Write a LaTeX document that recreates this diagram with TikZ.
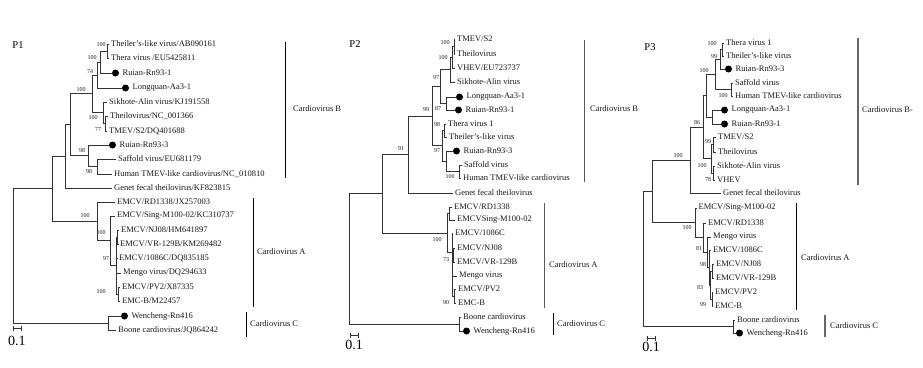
\documentclass[tikz,border=0pt]{standalone}
\usepackage{fontspec}
\setmainfont{Liberation Serif}
\newcommand\myleaf[4]{\coordinate (#1) at (#2,#3); \node[leaflab] (#1t) at (#2+2,#3) {#4};}
\newcommand\mydotleaf[4]{\coordinate (#1) at (#2,#3); \node[blackdot] (#1d) at (#2+3.5,#3) {}; \node[leaflab] (#1t) at (#2+10.5,#3) {#4};}
\newcommand\myboot[4]{\node[boot] (#1) at (#2,#3) {#4};}
\begin{document}
\begin{tikzpicture}[x=1pt,y=-1pt,
  treeline/.style={draw=black!80, line width=0.9pt},
  leaflab/.style={anchor=west, inner sep=0pt, text=black!90, font=\fontsize{8.5}{10}\selectfont},
  boot/.style={inner sep=0pt, text=black!90, font=\fontsize{6}{7}\selectfont},
  blackdot/.style={circle, fill=black, inner sep=0pt, minimum size=7pt},
  panel/.style={inner sep=0pt, font=\fontsize{10.5}{12}\selectfont},
  cladebar/.style={draw=black, line width=0.9pt},
  graybar/.style={draw=black!60, line width=1.5pt},
  cladelab/.style={anchor=west, inner sep=0pt, text=black!90, font=\fontsize{8.5}{10}\selectfont},
  scalebar/.style={draw=black!80, line width=0.8pt},
  scalelab/.style={inner sep=0pt, font=\fontsize{14}{16}\selectfont}]
\useasboundingbox (0,0) rectangle (923,367);
\fill[white] (0,0) rectangle (923,367);

% ================= P1 =================
\node[panel] (P1) at (18,45) {P1};
\myleaf{p1l1}{109}{44}{Theiler's-like virus/AB090161}
\myleaf{p1l2}{109}{58}{Thera virus /EU5425811}
\mydotleaf{p1l3}{112}{73}{Ruian-Rn93-1}
\mydotleaf{p1l4}{122}{88}{Longquan-Aa3-1}
\myleaf{p1l5}{107}{102}{Sikhote-Alin virus/KJ191558}
\myleaf{p1l6}{108}{116}{Theilovirus/NC\_001366}
\myleaf{p1l7}{107}{131}{TMEV/S2/DQ401688}
\mydotleaf{p1l8}{109}{145}{Ruian-Rn93-3}
\myleaf{p1l9}{116}{159}{Saffold virus/EU681179}
\myleaf{p1l10}{112}{174}{Human TMEV-like cardiovirus/NC\_010810}
\myleaf{p1l11}{112}{188}{Genet fecal theilovirus/KF823815}
\myleaf{p1l12}{115}{202}{EMCV/RD1338/JX257003}
\myleaf{p1l13}{115}{216}{EMCV/Sing-M100-02/KC310737}
\myleaf{p1l14}{119}{230}{EMCV/NJ08/HM641897}
\myleaf{p1l15}{118}{244}{EMCV/VR-129B/KM269482}
\myleaf{p1l16}{117}{258}{EMCV/1086C/DQ835185}
\myleaf{p1l17}{121}{273}{Mengo virus/DQ294633}
\myleaf{p1l18}{120}{287}{EMCV/PV2/X87335}
\myleaf{p1l19}{120}{301}{EMC-B/M22457}
\mydotleaf{p1l20}{121}{316}{Wencheng-Rn416}
\myleaf{p1l21}{116}{330}{Boone cardiovirus/JQ864242}

\coordinate (p1a) at (107,51);
\coordinate (p1b) at (100,62);
\coordinate (p1c) at (97,75);
\coordinate (p1d) at (105,123.5);
\coordinate (p1e) at (103,112.75);
\coordinate (p1f) at (92,93.9);
\coordinate (p1g) at (97,166.5);
\coordinate (p1h) at (88,155.75);
\coordinate (p1i) at (70,124.8);
\coordinate (p1j) at (65,156.4);
\coordinate (p1nv) at (117.5,237);
\coordinate (p1pe) at (118,294);
\coordinate (p1m) at (116.5,265.5);
\coordinate (p1n) at (110,240.75);
\coordinate (p1o) at (97,221.4);
\coordinate (p1p) at (52,188.9);
\coordinate (p1q) at (108,323);
\coordinate (p1r) at (13,256);

\draw[treeline]
 (p1a) |- (p1l1) (p1a) |- (p1l2)
 (p1b) |- (p1a) (p1b) |- (p1l3)
 (p1c) |- (p1b) (p1c) |- (p1l4)
 (p1d) |- (p1l6) (p1d) |- (p1l7)
 (p1e) |- (p1l5) (p1e) |- (p1d)
 (p1f) |- (p1c) (p1f) |- (p1e)
 (p1g) |- (p1l9) (p1g) |- (p1l10)
 (p1h) |- (p1l8) (p1h) |- (p1g)
 (p1i) |- (p1f) (p1i) |- (p1h)
 (p1j) |- (p1i) (p1j) |- (p1l11)
 (p1nv) |- (p1l14) (p1nv) |- (p1l15)
 (p1pe) |- (p1l18) (p1pe) |- (p1l19)
 (p1m) |- (p1nv) (p1m) |- (p1l16) (p1m) |- (p1l17) (p1m) |- (p1pe)
 (p1n) |- (p1l13) (p1n) |- (p1m)
 (p1o) |- (p1l12) (p1o) |- (p1n)
 (p1p) |- (p1j) (p1p) |- (p1o)
 (p1q) |- (p1l20) (p1q) |- (p1l21)
 (p1r) |- (p1p) (p1r) |- (p1q);

\myboot{p1ba}{101}{45}{100}
\myboot{p1bb}{92}{58}{100}
\myboot{p1bc}{90}{72}{74}
\myboot{p1bd}{98}{130}{77}
\myboot{p1be}{93}{118}{100}
\myboot{p1bf}{81}{89.5}{100}
\myboot{p1bg}{89}{172}{98}
\myboot{p1bh}{82}{151}{98}
\myboot{p1bpe}{101}{292}{100}
\myboot{p1bm}{106}{259}{97}
\myboot{p1bn}{101}{233}{100}
\myboot{p1bo}{85}{215.5}{100}

\coordinate (s1a) at (13,328); \coordinate (s1b) at (21,328);
\draw[scalebar] (s1a) -- (s1b) (s1a) ++(0,-2.5) -- ++(0,5) (s1b) ++(0,-2.5) -- ++(0,5);
\node[scalelab] (s1t) at (17,341) {0.1};

\coordinate (c1bt) at (285,42); \coordinate (c1bb) at (285,178);
\draw[cladebar] (c1bt) -- (c1bb);
\node[cladelab] (c1bl) at (293,109) {Cardiovirus B};
\coordinate (c1at) at (253,198); \coordinate (c1ab) at (253,307);
\draw[cladebar] (c1at) -- (c1ab);
\node[cladelab] (c1al) at (257,252) {Cardiovirus A};
\coordinate (c1ct) at (246,312); \coordinate (c1cb) at (246,337);
\draw[cladebar] (c1ct) -- (c1cb);
\node[cladelab] (c1cl) at (250,324) {Cardiovirus C};

% ================= P2 =================
\node[panel] (P2) at (355,44) {P2};
\myleaf{p2l1}{455}{39}{TMEV/S2}
\myleaf{p2l2}{455}{54}{Theilovirus}
\myleaf{p2l3}{455}{68}{VHEV/EU723737}
\myleaf{p2l4}{455}{82}{Sikhote-Alin virus}
\mydotleaf{p2l5}{456}{97}{Longquan-Aa3-1}
\mydotleaf{p2l6}{455}{110}{Ruian-Rn93-1}
\myleaf{p2l7}{446}{124}{Thera virus 1}
\myleaf{p2l8}{447}{137}{Theiler's-like virus}
\mydotleaf{p2l9}{453}{151}{Ruian-Rn93-3}
\myleaf{p2l10}{462}{165}{Saffold virus}
\myleaf{p2l11}{461}{178}{Human TMEV-like cardiovirus}
\myleaf{p2l12}{453}{193}{Genet fecal theilovirus}
\myleaf{p2l13}{452}{207}{EMCV/RD1338}
\myleaf{p2l14}{455}{220}{EMCVSing-M100-02}
\myleaf{p2l15}{453}{233}{EMCV/1086C}
\myleaf{p2l16}{455}{248}{EMCV/NJ08}
\myleaf{p2l17}{455}{262}{EMCV/VR-129B}
\myleaf{p2l18}{457}{276}{Mengo virus}
\myleaf{p2l19}{456}{289}{EMCV/PV2}
\myleaf{p2l20}{456}{303}{EMC-B}
\myleaf{p2l21}{461}{317}{Boone cardiovirus}
\mydotleaf{p2l22}{463}{331}{Wencheng-Rn416}

\coordinate (p2a) at (454,46.5);
\coordinate (p2b) at (452,57.25);
\coordinate (p2c) at (450,69.6);
\coordinate (p2d) at (446,103.5);
\coordinate (p2e) at (440,86.6);
\coordinate (p2f) at (444,130.5);
\coordinate (p2g) at (459,171.5);
\coordinate (p2h) at (446,161.25);
\coordinate (p2i) at (442,145.9);
\coordinate (p2j) at (432,116.25);
\coordinate (p2k) at (408,154.6);
\coordinate (p2rs) at (449,213.5);
\coordinate (p2nv) at (453,255);
\coordinate (p2pe) at (454,296);
\coordinate (p2m) at (452,252.5);
\coordinate (p2n) at (447,233);
\coordinate (p2o) at (382,193.8);
\coordinate (p2q) at (459,324);
\coordinate (p2r) at (349,259);

\draw[treeline]
 (p2a) |- (p2l1) (p2a) |- (p2l2)
 (p2b) |- (p2a) (p2b) |- (p2l3)
 (p2c) |- (p2b) (p2c) |- (p2l4)
 (p2d) |- (p2l5) (p2d) |- (p2l6)
 (p2e) |- (p2c) (p2e) |- (p2d)
 (p2f) |- (p2l7) (p2f) |- (p2l8)
 (p2g) |- (p2l10) (p2g) |- (p2l11)
 (p2h) |- (p2l9) (p2h) |- (p2g)
 (p2i) |- (p2f) (p2i) |- (p2h)
 (p2j) |- (p2e) (p2j) |- (p2i)
 (p2k) |- (p2j) (p2k) |- (p2l12)
 (p2rs) |- (p2l13) (p2rs) |- (p2l14)
 (p2nv) |- (p2l16) (p2nv) |- (p2l17)
 (p2pe) |- (p2l19) (p2pe) |- (p2l20)
 (p2m) |- (p2l15) (p2m) |- (p2nv) (p2m) |- (p2l18) (p2m) |- (p2pe)
 (p2n) |- (p2rs) (p2n) |- (p2m)
 (p2o) |- (p2k) (p2o) |- (p2n)
 (p2q) |- (p2l21) (p2q) |- (p2l22)
 (p2r) |- (p2o) (p2r) |- (p2q);

\myboot{p2ba}{445}{43}{100}
\myboot{p2bb}{443}{58}{100}
\myboot{p2be}{436}{78}{97}
\myboot{p2bd}{438}{109}{87}
\myboot{p2bf}{437}{125}{98}
\myboot{p2bg}{450}{177}{100}
\myboot{p2bh}{437}{151}{97}
\myboot{p2bj}{426}{110}{99}
\myboot{p2bk}{401}{149}{91}
\myboot{p2bnv}{446}{260}{73}
\myboot{p2bpe}{446}{303}{90}
\myboot{p2bn}{437}{240}{100}

\coordinate (s2a) at (350,335); \coordinate (s2b) at (358,335);
\draw[scalebar] (s2a) -- (s2b) (s2a) ++(0,-2.5) -- ++(0,5) (s2b) ++(0,-2.5) -- ++(0,5);
\node[scalelab] (s2t) at (354,344.5) {0.1};

\coordinate (c2bt) at (584,40); \coordinate (c2bb) at (584,182);
\draw[cladebar, draw=black!65] (c2bt) -- (c2bb);
\node[cladelab] (c2bl) at (590,109) {Cardiovirus B};
\coordinate (c2at) at (544,203); \coordinate (c2ab) at (544,308);
\draw[cladebar, draw=black!65] (c2at) -- (c2ab);
\node[cladelab] (c2al) at (549,265) {Cardiovirus A};
\coordinate (c2ct) at (553,313); \coordinate (c2cb) at (553,335);
\draw[cladebar] (c2ct) -- (c2cb);
\node[cladelab] (c2cl) at (557,324) {Cardiovirus C};

% ================= P3 =================
\node[panel] (P3) at (650,47) {P3};
\myleaf{p3l1}{724}{43}{Thera virus 1}
\myleaf{p3l2}{724}{56}{Theiler's-like virus}
\mydotleaf{p3l3}{725}{69}{Ruian-Rn93-3}
\myleaf{p3l4}{733}{83}{Saffold virus}
\myleaf{p3l5}{733}{96}{Human TMEV-like cardiovirus}
\mydotleaf{p3l6}{721}{110}{Longquan-Aa3-1}
\mydotleaf{p3l7}{721}{124}{Ruian-Rn93-1}
\myleaf{p3l8}{716}{137}{TMEV/S2}
\myleaf{p3l9}{716}{152}{Theilovirus}
\myleaf{p3l10}{715}{166}{Sikhote-Alin virus}
\myleaf{p3l11}{715}{180}{VHEV}
\myleaf{p3l12}{721}{193}{Genet fecal theilovirus}
\myleaf{p3l13}{696.5}{208}{EMCV/Sing-M100-02}
\myleaf{p3l14}{706}{223}{EMCV/RD1338}
\myleaf{p3l15}{711}{237}{Mengo virus}
\myleaf{p3l16}{711}{250}{EMCV/1086C}
\myleaf{p3l17}{714}{264}{EMCV/NJ08}
\myleaf{p3l18}{714}{278}{EMCV/VR-129B}
\myleaf{p3l19}{713}{292}{EMCV/PV2}
\myleaf{p3l20}{713}{306}{EMC-B}
\myleaf{p3l21}{735}{320}{Boone cardiovirus}
\mydotleaf{p3l22}{736}{333}{Wencheng-Rn416}

\coordinate (p3a) at (722,49.5);
\coordinate (p3b) at (720,59.25);
\coordinate (p3c) at (731,89.5);
\coordinate (p3d) at (715,74.4);
\coordinate (p3e) at (712,117);
\coordinate (p3f) at (706,95.7);
\coordinate (p3g) at (713,144.5);
\coordinate (p3h) at (713,173);
\coordinate (p3i) at (711,158.75);
\coordinate (p3j) at (703,127.2);
\coordinate (p3k) at (690,160.1);
\coordinate (p3nv) at (712.5,271);
\coordinate (p3pe) at (712,299);
\coordinate (p3np) at (710.5,285);
\coordinate (p3s) at (709,267.5);
\coordinate (p3t) at (707,252.25);
\coordinate (p3u) at (703,237.6);
\coordinate (p3v) at (695.5,222.8);
\coordinate (p3w) at (652,191.5);
\coordinate (p3q) at (733,326.5);
\coordinate (p3r) at (643,259);

\draw[treeline]
 (p3a) |- (p3l1) (p3a) |- (p3l2)
 (p3b) |- (p3a) (p3b) |- (p3l3)
 (p3c) |- (p3l4) (p3c) |- (p3l5)
 (p3d) |- (p3b) (p3d) |- (p3c)
 (p3e) |- (p3l6) (p3e) |- (p3l7)
 (p3f) |- (p3d) (p3f) |- (p3e)
 (p3g) |- (p3l8) (p3g) |- (p3l9)
 (p3h) |- (p3l10) (p3h) |- (p3l11)
 (p3i) |- (p3g) (p3i) |- (p3h)
 (p3j) |- (p3f) (p3j) |- (p3i)
 (p3k) |- (p3j) (p3k) |- (p3l12)
 (p3nv) |- (p3l17) (p3nv) |- (p3l18)
 (p3pe) |- (p3l19) (p3pe) |- (p3l20)
 (p3np) |- (p3nv) (p3np) |- (p3pe)
 (p3s) |- (p3l16) (p3s) |- (p3np)
 (p3t) |- (p3l15) (p3t) |- (p3s)
 (p3u) |- (p3l14) (p3u) |- (p3t)
 (p3v) |- (p3l13) (p3v) |- (p3u)
 (p3w) |- (p3k) (p3w) |- (p3v)
 (p3q) |- (p3l21) (p3q) |- (p3l22)
 (p3r) |- (p3w) (p3r) |- (p3q);

\myboot{p3ba}{712}{44}{100}
\myboot{p3bb}{714}{57}{99}
\myboot{p3bc}{723}{96}{100}
\myboot{p3bd}{704}{71}{100}
\myboot{p3bj}{697}{123}{86}
\myboot{p3bg}{708}{142}{99}
\myboot{p3bi}{702}{166}{100}
\myboot{p3bh}{708}{180}{78}
\myboot{p3bk}{678}{156}{100}
\myboot{p3bnv}{703}{265}{98}
\myboot{p3bnp}{700}{288}{83}
\myboot{p3bpe}{703}{305}{99}
\myboot{p3bt}{699}{249}{81}
\myboot{p3bv}{687}{228}{100}

\coordinate (s3a) at (647,338); \coordinate (s3b) at (655,338);
\draw[scalebar] (s3a) -- (s3b) (s3a) ++(0,-2.5) -- ++(0,5) (s3b) ++(0,-2.5) -- ++(0,5);
\node[scalelab] (s3t) at (651,346.5) {0.1};

\coordinate (c3bt) at (858,38); \coordinate (c3bb) at (858,185);
\draw[graybar] (c3bt) -- (c3bb);
\node[cladelab] (c3bl) at (862,110) {Cardiovirus B-};
\coordinate (c3at) at (796,203); \coordinate (c3ab) at (796,310);
\draw[cladebar] (c3at) -- (c3ab);
\node[cladelab] (c3al) at (801,258) {Cardiovirus A};
\coordinate (c3ct) at (825,315); \coordinate (c3cb) at (825,337);
\draw[graybar] (c3ct) -- (c3cb);
\node[cladelab] (c3cl) at (830,326) {Cardiovirus C};
\end{tikzpicture}
\end{document}
